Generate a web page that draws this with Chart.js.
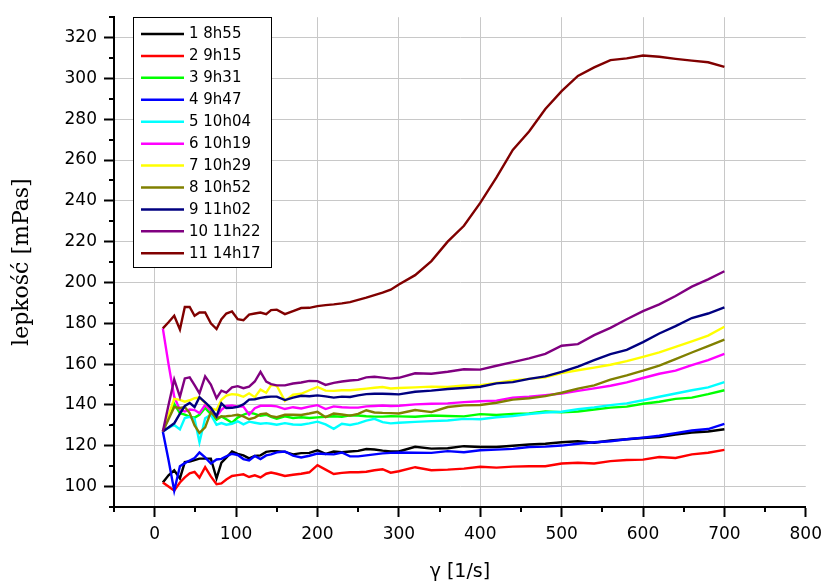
<!DOCTYPE html>
<html><head><meta charset="utf-8">
<script src="https://cdn.jsdelivr.net/npm/chart.js@4.4.0/dist/chart.umd.min.js"></script>
<style>html,body{margin:0;padding:0;background:#fff;overflow:hidden}#wrap{width:829px;height:582px;position:relative}</style>
</head><body><div id="wrap"><canvas id="c" width="829" height="582"></canvas></div>
<script>
// shear rate (x) values, 1/s
const shearRates = [10,17,24,31,37,43,49,55,62,69,76,82,88,95,102,109,116,123,130,137,143,150,
  160,170,180,190,200,210,220,230,240,250,260,270,280,290,300,
  320,340,360,380,400,420,440,460,480,500,520,540,560,580,600,620,640,660,680,700];

const seriesLabels = ["1 8h55","2 9h15","3 9h31","4 9h47","5 10h04","6 10h19","7 10h29","8 10h52","9 11h02","10 11h22","11 14h17"];
const seriesColors = ["#000000","#ff0000","#00ff00","#0000ff","#00ffff","#ff00ff","#ffff00","#808000","#000080","#800080","#800000"];

// viscosity values, mPas
const s1 = [102,105.5,108,104,112,112.3,113,113.7,113.7,113.7,104,111.7,114.2,117.2,116,115.3,113.8,115,115.3,117,117.4,117.4,
  117,115.8,116.4,116.5,117.8,116,117.2,116.8,117.2,117.5,118.4,118.2,117.6,117.2,117.2,
  119.5,118.6,118.8,119.8,119.4,119.4,120,120.6,121,121.7,122.2,121.5,122.6,123.2,123.8,124.3,125.5,126.5,127,128.1];
const s2 = [102,100,98,102,104.5,106.5,107.2,104.4,109.5,105,101.2,101.6,103.5,105.2,105.6,106,104.7,105.5,104.5,106.3,106.9,106.3,
  105.2,105.8,106.3,107,110.5,108.3,106.2,106.7,107,107,107.3,108,108.5,106.8,107.5,
  109.5,108,108.3,108.8,109.7,109.3,109.8,110,110,111.3,111.7,111.3,112.5,113,113.2,114.5,114,115.8,116.6,118];
const s3 = [127,134,140.5,136,135.3,134.3,133.8,135.2,138.5,135.5,132.8,134.4,133,131.3,133.8,135.2,136.3,135.6,134.7,135.2,134.2,133.3,
  134.4,133.6,134,133.6,133.9,134.2,134.5,134.2,134.9,134.8,134.5,134.3,134.3,134.5,134.4,
  134.2,134.8,134.6,134.4,135.5,135.1,135.6,135.9,136.8,136.4,136.8,137.8,138.7,139.2,140.6,141.6,143,143.6,145.3,147.2];
const s4 = [127,113,98,110,111.5,112.8,114,116.7,114.3,111.3,113.3,113.6,114.8,116.1,115.5,113.5,112.8,115,113.5,115.3,115.8,116.8,
  117.2,115.2,114.3,115.1,116.2,116,115.8,116.7,114.8,114.8,115.3,115.8,116.3,116.5,116.7,
  116.6,116.5,117.4,116.8,117.8,118.1,118.5,119.4,119.6,120.1,121,121.7,122.2,123.2,124,124.9,126.2,127.5,128.2,130.7];
const s5 = [127,128.8,130.2,128,133.6,134.2,133.2,121.7,133.5,135.2,130.3,131.1,130.3,130.8,132,130.5,131.8,131.3,130.8,131.1,130.8,130.3,
  131.1,130.4,130.3,131,131.8,130.5,128.3,130.8,130.2,131,132.3,133.2,131.6,131,131.3,
  131.7,132.1,132.4,133.2,133,134,134.6,135.6,136.3,136.7,137.9,138.8,139.9,140.8,142.3,144,145.6,147.2,148.6,151.2];
const s6 = [177.5,160,144,137.6,136.8,137.8,137.5,136,140,137.2,134.4,137.6,139.5,139.8,139.2,139.2,135.3,138.4,139.6,139.6,139.6,139.3,
  138,138.9,138.3,139.2,139.9,138,139.3,138.9,138.7,138.7,139.3,139.5,139.7,139.5,139.6,
  140.3,140.6,140.8,141.4,141.8,142.1,143.6,144,144.8,145.6,146.9,148.1,149.4,151.1,153.2,155.3,156.8,159.5,162,165];
const s7 = [127,135,143,142.5,141.6,142.3,143.3,143.6,141,138.5,137.5,142.5,144.6,145.3,145,144,145.7,143.8,147.5,146,149.7,149.4,
  142,145,145.5,147.2,148.8,147,146.9,147.2,147.2,147.6,148,148.4,148.8,148.1,148.3,
  148.6,149,148.8,149.5,149.7,150.8,152,152.8,153.6,155.6,157,158.3,159.7,161.5,163.6,165.8,168.5,171.2,174,178.3];
const s8 = [127,133,139,138.5,139,136,130,126.3,129,136.5,133.6,134.4,134.5,134.8,135.2,134.4,133,133.8,135.5,135.8,134.5,134,
  135.2,135.2,135.1,135.8,136.6,134,135.8,135.3,134.8,135.6,137.4,136.3,136.1,136,135.8,
  137.5,136.5,139,139.8,140,141.1,142.6,143.3,144.3,146,148,149.6,152.4,154.5,156.8,159.3,162.5,165.7,168.8,172];
const s9 = [127,129,131,135.8,139.5,141,139,143.8,141.3,138.6,134.5,140.8,138.5,138.6,139.1,140.3,142.6,142.8,143.5,143.9,144.1,144.1,
  142.4,143.6,144.5,144.3,144.7,144.2,143.6,144.1,143.9,144.7,145.3,145.5,145.5,145.4,145.2,
  146.5,147,147.8,148.3,148.9,150.6,151.2,152.8,154,156.2,158.8,162,164.9,167,170.8,175,178.6,182.6,184.8,187.8];
const s10 = [127,140,152.5,144,153,153.5,149.7,145.7,154,150,143.3,147,146,148.6,149.2,148.2,149,151.5,156.2,151.4,150.2,149.6,
  149.6,150.5,151,151.8,151.7,149.8,150.8,151.5,152,152.3,153.5,153.8,153.4,152.9,153.3,
  155.5,155.3,156.3,157.5,157.3,159.2,161,162.8,165,169,169.8,174.2,177.8,182,186,189.3,193.4,198,201.5,205.5];
const s11 = [177.5,180.5,183.7,177,188,188,183.7,185.3,185.3,180,177.2,182,184.8,185.8,182,181.5,184.3,184.8,185.3,184.5,186.5,186.7,
  184.5,186,187.5,187.6,188.4,188.9,189.3,189.8,190.4,191.5,192.6,193.8,195,196.5,199,
  203.6,210.5,220,227.8,239,251.5,265,274,285,293.8,301.2,305.4,309,309.8,311.2,310.6,309.6,308.7,307.9,305.7];

const xTicks = [0,100,200,300,400,500,600,700,800];
const yTicks = [100,120,140,160,180,200,220,240,260,280,300,320];
const xMinorTicks = [-50,50,150,250,350,450,550,650,750];
const yMinorTicks = [90,110,130,150,170,190,210,230,250,270,290,310,330];

const allSeries = [s1,s2,s3,s4,s5,s6,s7,s8,s9,s10,s11];
const datasets = allSeries.map((vals,i)=>({
  label: seriesLabels[i],
  data: vals.map((v,j)=>({x: shearRates[j], y: v})),
  borderColor: seriesColors[i],
  backgroundColor: seriesColors[i],
  borderWidth: 2.4,
  pointRadius: 0,
  tension: 0,
  fill: false,
  order: allSeries.length - 1 - i
}));

const minorTickPlugin = {
  id: 'minorTicks',
  afterDraw(chart) {
    const ctx = chart.ctx, xs = chart.scales.x, ys = chart.scales.y, a = chart.chartArea;
    ctx.save();
    ctx.strokeStyle = '#000'; ctx.lineWidth = 2;
    ctx.beginPath();
    xMinorTicks.forEach(v => { const p = Math.round(xs.getPixelForValue(v)); ctx.moveTo(p, a.bottom); ctx.lineTo(p, a.bottom + 5); });
    yMinorTicks.forEach(v => { const p = Math.round(ys.getPixelForValue(v)); ctx.moveTo(a.left - 5, p); ctx.lineTo(a.left, p); });
    ctx.stroke();
    ctx.restore();
  }
};

const legendPlugin = {
  id: 'boxLegend',
  afterDraw(chart) {
    const ctx = chart.ctx;
    const box = {left: 133.5, top: 17.5, width: 138, height: 250};
    ctx.save();
    ctx.fillStyle = '#fff';
    ctx.fillRect(box.left, box.top, box.width, box.height);
    ctx.strokeStyle = '#000'; ctx.lineWidth = 1;
    ctx.strokeRect(box.left, box.top, box.width, box.height);
    ctx.font = '15px "DejaVu Sans"';
    ctx.textBaseline = 'middle';
    chart.data.datasets.forEach((ds, i) => {
      const y = 34 + i * 21.93;
      ctx.strokeStyle = ds.borderColor; ctx.lineWidth = 2.5;
      ctx.beginPath(); ctx.moveTo(141, y); ctx.lineTo(184, y); ctx.stroke();
      ctx.fillStyle = '#000';
      ctx.fillText(ds.label, 189, y + 0.5);
    });
    ctx.restore();
  }
};

new Chart(document.getElementById('c'), {
  type: 'line',
  data: { datasets },
  options: {
    responsive: false,
    animation: false,
    devicePixelRatio: 1,
    layout: { padding: { left: 0, top: 15, right: 18, bottom: 0 } },
    plugins: { legend: { display: false }, tooltip: { enabled: false } },
    scales: {
      x: {
        type: 'linear', min: -50, max: 800,
        afterBuildTicks: s => { s.ticks = xTicks.map(v => ({value: v})); },
        afterFit: s => { s.height = 75; },
        grid: { color: c => (c.tick && c.tick.value === 800) ? 'rgba(0,0,0,0)' : '#c8c8c8', lineWidth: 1, drawTicks: true, tickLength: 10, tickColor: '#000', tickWidth: 2 },
        border: { color: '#000', width: 2 },
        ticks: { color: '#000', font: { family: 'DejaVu Sans', size: 17 }, padding: 7, maxRotation: 0, autoSkip: false },
        title: { display: true, text: 'γ [1/s]', color: '#000', font: { family: 'DejaVu Sans', size: 19, lineHeight: 1 }, padding: { top: 0, bottom: 0 } }
      },
      y: {
        type: 'linear', min: 90, max: 330,
        afterBuildTicks: s => { s.ticks = yTicks.map(v => ({value: v})); },
        afterFit: s => { s.width = 114; },
        grid: { color: '#c8c8c8', lineWidth: 1, drawTicks: true, tickLength: 10, tickColor: '#000', tickWidth: 2 },
        border: { color: '#000', width: 2 },
        ticks: { color: '#000', font: { family: 'DejaVu Sans', size: 17 }, padding: 7, autoSkip: false },
        title: { display: true, text: 'lepkość [mPas]', color: '#000', font: { family: 'DejaVu Serif', size: 22, lineHeight: 1.2 }, padding: { top: 9, bottom: 0 } }
      }
    }
  },
  plugins: [minorTickPlugin, legendPlugin]
});
</script>
</body></html>
